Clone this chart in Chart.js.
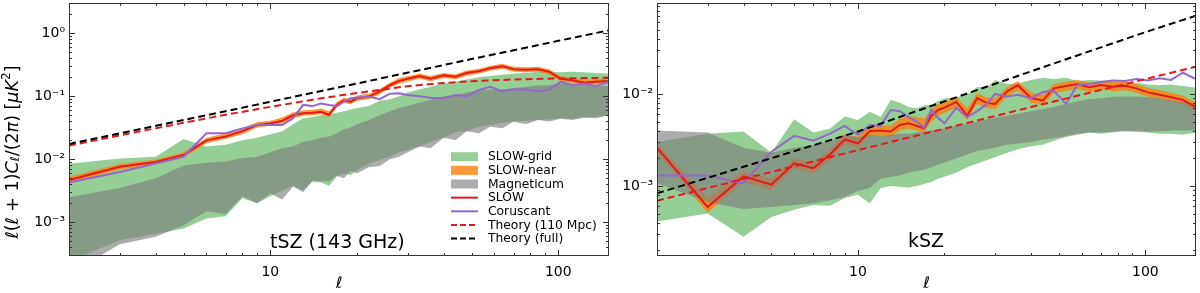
<!DOCTYPE html>
<html>
<head>
<meta charset="utf-8">
<script src="https://cdn.jsdelivr.net/npm/chart.js@4.4.1/dist/chart.umd.min.js"></script>
<style>
  body { margin: 0; background: #fff; width: 1200px; height: 293px; overflow: hidden; position: relative; }
  canvas { position: absolute; top: 0; }
  #tsz { left: 0; }
  #ksz { left: 612px; }
</style>
</head>
<body>
<canvas id="tsz" width="612" height="293"></canvas>
<canvas id="ksz" width="588" height="293"></canvas>
<script>
// multipoles shared by the simulated spectra
const ell = [2, 3, 4, 5, 6, 7, 8, 9, 10, 11, 12, 13, 14, 15, 16, 17, 18, 19, 20,
  22, 24, 26, 28, 30, 33, 36, 40, 44, 48, 53, 58, 64, 70, 77, 85, 93, 102, 112, 123, 135, 150];

// tSZ (143 GHz)
const tszGridLo = [0.00024, 0.00052, 0.00065, 0.0008, 0.00115, 0.00125, 0.0024, 0.002, 0.0026, 0.0032, 0.0038, 0.0032, 0.0044, 0.0043, 0.0038, 0.0053, 0.006, 0.0056, 0.0068,
  0.0085, 0.0098, 0.011, 0.013, 0.014, 0.016, 0.019, 0.022, 0.027, 0.028, 0.033, 0.035, 0.038, 0.04, 0.041, 0.042, 0.043, 0.045, 0.044, 0.046, 0.047, 0.05];
const tszGridHi = [0.0085, 0.0103, 0.011, 0.021, 0.016, 0.017, 0.02, 0.022, 0.025, 0.028, 0.036, 0.045, 0.047, 0.05, 0.052, 0.055, 0.058, 0.062, 0.065,
  0.07, 0.085, 0.09, 0.1, 0.115, 0.13, 0.14, 0.16, 0.17, 0.185, 0.2, 0.21, 0.22, 0.23, 0.235, 0.245, 0.245, 0.24, 0.245, 0.24, 0.235, 0.23];
const tszNearLo = [0.0042, 0.0069, 0.0083, 0.0106, 0.018, 0.021, 0.025, 0.032, 0.034, 0.037, 0.045, 0.049, 0.05, 0.052, 0.047, 0.066, 0.078, 0.075, 0.085,
  0.09, 0.108, 0.135, 0.158, 0.172, 0.19, 0.173, 0.195, 0.186, 0.213, 0.228, 0.255, 0.273, 0.246, 0.241, 0.246, 0.223, 0.173, 0.164, 0.15, 0.155, 0.16];
const tszNearHi = [0.0053, 0.0084, 0.0099, 0.013, 0.022, 0.026, 0.031, 0.039, 0.041, 0.046, 0.056, 0.06, 0.061, 0.064, 0.058, 0.081, 0.095, 0.091, 0.103,
  0.11, 0.132, 0.165, 0.196, 0.208, 0.23, 0.21, 0.235, 0.225, 0.257, 0.275, 0.306, 0.328, 0.296, 0.29, 0.295, 0.268, 0.209, 0.197, 0.181, 0.186, 0.192];
const tszMagLo = [0.00015, 0.00045, 0.00059, 0.0009, 0.0015, 0.00135, 0.0026, 0.002, 0.0029, 0.0023, 0.0037, 0.003, 0.0046, 0.0045, 0.0045, 0.0055, 0.005, 0.0065, 0.006,
  0.0075, 0.0078, 0.01, 0.011, 0.013, 0.016, 0.015, 0.022, 0.02, 0.028, 0.026, 0.033, 0.031, 0.04, 0.036, 0.042, 0.04, 0.044, 0.042, 0.046, 0.045, 0.05];
const tszMagHi = [0.0025, 0.0035, 0.005, 0.008, 0.0088, 0.0092, 0.0105, 0.011, 0.013, 0.015, 0.016, 0.019, 0.02, 0.022, 0.023, 0.026, 0.03, 0.032, 0.036,
  0.042, 0.05, 0.058, 0.065, 0.07, 0.08, 0.088, 0.1, 0.105, 0.115, 0.125, 0.128, 0.13, 0.135, 0.14, 0.15, 0.15, 0.16, 0.155, 0.16, 0.15, 0.145];
const tszSlow = [0.0047, 0.0076, 0.0091, 0.0117, 0.02, 0.023, 0.028, 0.035, 0.037, 0.041, 0.05, 0.054, 0.055, 0.057, 0.051, 0.073, 0.086, 0.082, 0.093,
  0.099, 0.12, 0.15, 0.175, 0.19, 0.21, 0.19, 0.215, 0.205, 0.235, 0.25, 0.28, 0.3, 0.27, 0.265, 0.27, 0.245, 0.19, 0.18, 0.165, 0.17, 0.175];
const tszCorus = [0.0043, 0.0063, 0.0086, 0.011, 0.026, 0.026, 0.031, 0.035, 0.035, 0.035, 0.045, 0.073, 0.07, 0.077, 0.073, 0.07, 0.082, 0.093, 0.095,
  0.099, 0.09, 0.11, 0.112, 0.105, 0.1, 0.095, 0.093, 0.105, 0.1, 0.126, 0.142, 0.12, 0.128, 0.13, 0.12, 0.128, 0.17, 0.15, 0.16, 0.145, 0.17];
const tsz110Ell = [2, 3, 5, 7, 10, 15, 20, 30, 40, 50, 70, 100, 150];
const tsz110 = [0.0165, 0.024, 0.038, 0.051, 0.068, 0.093, 0.113, 0.145, 0.163, 0.174, 0.185, 0.192, 0.197];
const tszFullEll = [2, 5, 10, 20, 50, 100, 150];
const tszFull = [0.0175, 0.042, 0.082, 0.16, 0.39, 0.76, 1.12];

// kSZ
const kszGridLo = [0.00041, 0.0005, 0.00028, 0.00046, 0.00055, 0.00062, 0.00061, 0.00074, 0.0008, 0.00065, 0.00095, 0.001, 0.00098, 0.00096, 0.001, 0.00105, 0.0011, 0.0012, 0.00126,
  0.0014, 0.0016, 0.00175, 0.0019, 0.00205, 0.0023, 0.0025, 0.0027, 0.0028, 0.0031, 0.0034, 0.0036, 0.0038, 0.0037, 0.0038, 0.004, 0.0039, 0.0038, 0.0037, 0.0037, 0.0036, 0.0038];
const kszGridHi = [0.003, 0.0037, 0.0039, 0.0023, 0.0053, 0.0038, 0.0042, 0.0057, 0.0052, 0.0064, 0.0056, 0.0086, 0.008, 0.0072, 0.007, 0.0075, 0.0077, 0.0084, 0.0089,
  0.0092, 0.0098, 0.012, 0.0115, 0.0142, 0.0128, 0.013, 0.0142, 0.015, 0.0145, 0.015, 0.0138, 0.0142, 0.014, 0.0138, 0.0135, 0.0132, 0.0127, 0.0124, 0.0127, 0.0122, 0.0117];
const kszNearLo = [0.0023, 0.00051, 0.0011, 0.0009, 0.00155, 0.00135, 0.0019, 0.0028, 0.0026, 0.0035, 0.0035, 0.0034, 0.004, 0.0042, 0.004, 0.0038, 0.005, 0.0058, 0.0062,
  0.0071, 0.0052, 0.0078, 0.007, 0.0069, 0.0093, 0.011, 0.008, 0.0076, 0.0102, 0.0108, 0.0114, 0.0105, 0.0112, 0.0107, 0.011, 0.0103, 0.0093, 0.0088, 0.0083, 0.0077, 0.0065];
const kszNearHi = [0.0029, 0.00075, 0.00145, 0.0012, 0.002, 0.0018, 0.0025, 0.0037, 0.0034, 0.0046, 0.0046, 0.0045, 0.0054, 0.0058, 0.0056, 0.0054, 0.0068, 0.0078, 0.0082,
  0.0093, 0.007, 0.0102, 0.0092, 0.009, 0.0118, 0.0138, 0.0104, 0.0098, 0.0128, 0.0136, 0.0142, 0.0132, 0.0138, 0.0134, 0.0136, 0.0128, 0.0116, 0.011, 0.0103, 0.0096, 0.008];
const kszMagLo = [0.00107, 0.00067, 0.00056, 0.00059, 0.00062, 0.00065, 0.0007, 0.00076, 0.00088, 0.00095, 0.0012, 0.00125, 0.0013, 0.0014, 0.00145, 0.0015, 0.0016, 0.0017, 0.0018,
  0.002, 0.0022, 0.0024, 0.0025, 0.0026, 0.0028, 0.0029, 0.003, 0.0032, 0.0033, 0.0035, 0.0037, 0.0038, 0.0038, 0.0039, 0.0039, 0.0039, 0.0039, 0.0039, 0.004, 0.004, 0.004];
const kszMagHi = [0.004, 0.0038, 0.0026, 0.0023, 0.0026, 0.0028, 0.0031, 0.0036, 0.0034, 0.0036, 0.0035, 0.0036, 0.0037, 0.0037, 0.0038, 0.0039, 0.004, 0.0041, 0.0042,
  0.0045, 0.0047, 0.005, 0.0053, 0.0055, 0.0058, 0.0061, 0.0065, 0.0068, 0.0072, 0.0078, 0.0083, 0.0088, 0.009, 0.0093, 0.0094, 0.0094, 0.0092, 0.009, 0.0086, 0.0082, 0.0078];
const kszSlow = [0.0026, 0.00059, 0.00127, 0.00103, 0.00176, 0.00156, 0.0022, 0.0032, 0.0029, 0.00396, 0.004, 0.0039, 0.0046, 0.0048, 0.0045, 0.0042, 0.0058, 0.0067, 0.0071,
  0.0082, 0.0058, 0.009, 0.008, 0.0078, 0.0106, 0.0125, 0.009, 0.0085, 0.0115, 0.0122, 0.0128, 0.0118, 0.0125, 0.012, 0.0123, 0.0115, 0.0104, 0.0098, 0.0092, 0.0086, 0.0072];
const kszCorus = [0.0013, 0.0013, 0.00107, 0.00236, 0.0035, 0.0031, 0.0037, 0.0045, 0.0036, 0.0046, 0.0045, 0.0067, 0.0065, 0.0056, 0.005, 0.0043, 0.0067, 0.0055, 0.0048,
  0.0071, 0.0056, 0.0065, 0.0077, 0.01, 0.0094, 0.0098, 0.009, 0.0105, 0.0108, 0.0078, 0.0125, 0.0128, 0.0135, 0.014, 0.0138, 0.0145, 0.014, 0.0148, 0.0142, 0.017, 0.0145];
const ksz110Ell = [2, 10, 40, 150];
const ksz110 = [0.00069, 0.00245, 0.0072, 0.0198];
const kszFullEll = [2, 5, 10, 20, 45, 100, 150];
const kszFull = [0.00083, 0.002, 0.0039, 0.0083, 0.02, 0.047, 0.071];

const FONT = "'DejaVu Sans', sans-serif";
const GREEN = 'rgba(44, 160, 44, 0.5)';
const ORANGE = 'rgba(255, 127, 14, 0.8)';
const GRAY = 'rgba(128, 128, 128, 0.65)';
const RED = '#e31a1c';
const PURPLE = '#9467cd';

const pts = (xs, ys) => xs.map((x, i) => ({ x: x, y: ys[i] }));
const sup = { '-': '\u207B', '0': '\u2070', '1': '\u00B9', '2': '\u00B2', '3': '\u00B3', '4': '\u2074' };

function line(xs, ys, color, dash) {
  return { data: pts(xs, ys), borderColor: color, borderWidth: 2, borderDash: dash || [],
    pointRadius: 0, fill: false, tension: 0 };
}
function edge(ys, fillTo, color) {
  return { data: pts(ell, ys), borderColor: 'transparent', borderWidth: 0, pointRadius: 0,
    fill: fillTo === null ? false : fillTo, backgroundColor: color || 'transparent', tension: 0 };
}

// inward ticks on all four sides plus the frame, text and legend
const decor = {
  id: 'decor',
  afterDraw(chart, args, o) {
    const { ctx, chartArea: a, scales } = chart;
    ctx.save();
    ctx.strokeStyle = '#333';
    ctx.lineWidth = 1;
    const each = (sc, fn) => {
      const e0 = Math.floor(Math.log10(sc.min)), e1 = Math.ceil(Math.log10(sc.max));
      for (let e = e0; e <= e1; e++) {
        for (let m = 1; m < 10; m++) {
          const v = m * Math.pow(10, e);
          if (v < sc.min * 0.999 || v > sc.max * 1.001) continue;
          fn(Math.round(sc.getPixelForValue(v)) + 0.5, m === 1 ? 6 : 3);
        }
      }
    };
    ctx.beginPath();
    each(scales.x, (p, len) => {
      ctx.moveTo(p, a.bottom); ctx.lineTo(p, a.bottom - len);
      ctx.moveTo(p, a.top); ctx.lineTo(p, a.top + len);
    });
    each(scales.y, (p, len) => {
      ctx.moveTo(a.left, p); ctx.lineTo(a.left + len, p);
      ctx.moveTo(a.right, p); ctx.lineTo(a.right - len, p);
    });
    ctx.stroke();
    ctx.strokeRect(a.left + 0.5, a.top + 0.5, a.right - a.left - 1, a.bottom - a.top - 1);

    ctx.fillStyle = '#000';
    ctx.font = '19px ' + FONT;
    ctx.textBaseline = 'alphabetic';
    ctx.fillText(o.tag, o.tagX, o.tagY);

    ctx.font = 'italic 16px ' + FONT;
    ctx.textAlign = 'center';
    ctx.textBaseline = 'middle';
    ctx.fillText('\u2113', (a.left + a.right) / 2, 284);
    ctx.textAlign = 'left';

    if (o.ylabel) {
      const s = 17.5;
      const n = s + 'px ' + FONT, it = 'italic ' + s + 'px ' + FONT;
      const sm = 'italic ' + (s * 0.7) + 'px ' + FONT, smn = (s * 0.7) + 'px ' + FONT;
      const parts = [['\u2113', it, 0], ['(', n, 0], ['\u2113', it, 0], [' + 1)', n, 0], ['C', it, 0],
        ['\u2113', sm, 3], ['/(2', n, 0], ['\u03C0', it, 0], [')', n, 0], [' [', n, 0], ['\u03BCK', it, 0],
        ['2', smn, -6], [']', n, 0]];
      let w = 0;
      parts.forEach(p => { ctx.font = p[1]; w += ctx.measureText(p[0]).width; });
      ctx.translate(13, 152);
      ctx.rotate(-Math.PI / 2);
      let x = -w / 2;
      ctx.textBaseline = 'middle';
      parts.forEach(p => { ctx.font = p[1]; ctx.fillText(p[0], x, p[2]); x += ctx.measureText(p[0]).width; });
      ctx.setTransform(1, 0, 0, 1, 0, 0);
    }

    if (o.legend) {
      const items = [['patch', GREEN, 'SLOW-grid'], ['patch', ORANGE, 'SLOW-near'], ['patch', GRAY, 'Magneticum'],
        ['line', RED, 'SLOW'], ['line', PURPLE, 'Coruscant'], ['dash', RED, 'Theory (110 Mpc)'], ['dash', '#000', 'Theory (full)']];
      ctx.font = '12.3px ' + FONT;
      ctx.textBaseline = 'middle';
      items.forEach((it, i) => {
        const y = 156.7 + i * 13.65;
        if (it[0] === 'patch') {
          ctx.fillStyle = it[1];
          ctx.fillRect(451, y - 4.5, 27, 9);
        } else {
          ctx.strokeStyle = it[1];
          ctx.lineWidth = 2;
          ctx.setLineDash(it[0] === 'dash' ? [6, 3] : []);
          ctx.beginPath(); ctx.moveTo(451, y); ctx.lineTo(478, y); ctx.stroke();
          ctx.setLineDash([]);
        }
        ctx.fillStyle = '#000';
        ctx.fillText(it[2], 488, y + 0.5);
      });
    }
    ctx.restore();
  }
};

function makeChart(id, cfg) {
  const datasets = [
    line(cfg.fullEll, cfg.full, '#000', [7, 4]),
    line(cfg.e110, cfg.t110, RED, [7, 4]),
    line(ell, cfg.corus, PURPLE),
    line(ell, cfg.slow, RED),
    edge(cfg.magLo, null),
    edge(cfg.magHi, 4, GRAY),
    edge(cfg.nearLo, null),
    edge(cfg.nearHi, 6, ORANGE),
    edge(cfg.gridLo, null),
    edge(cfg.gridHi, 8, GREEN)
  ];
  const tickFont = { family: FONT, size: 14 };
  return new Chart(document.getElementById(id), {
    type: 'line',
    data: { datasets: datasets },
    plugins: [decor],
    options: {
      responsive: false,
      animation: false,
      devicePixelRatio: 1,
      layout: { padding: { left: 0, top: 3, right: cfg.padRight, bottom: 0 } },
      plugins: {
        legend: { display: false },
        tooltip: { enabled: false },
        decor: { tag: cfg.tag, tagX: cfg.tagX, tagY: cfg.tagY, ylabel: cfg.ylabel, legend: cfg.legend }
      },
      scales: {
        x: {
          type: 'logarithmic', min: 2, max: 150,
          afterFit: s => { s.height = 37; s.paddingLeft = 0; s.paddingRight = 0; },
          afterBuildTicks: s => { s.ticks = [{ value: 10 }, { value: 100 }]; },
          grid: { display: false, drawTicks: false },
          border: { display: false },
          ticks: { autoSkip: false, maxRotation: 0, padding: 8, color: '#000', font: tickFont,
            callback: v => String(v) }
        },
        y: {
          type: 'logarithmic', min: cfg.ymin, max: cfg.ymax,
          afterFit: s => { s.width = cfg.yWidth; s.paddingTop = 0; s.paddingBottom = 0; },
          afterBuildTicks: s => { s.ticks = cfg.decades.map(v => ({ value: v })); },
          grid: { display: false, drawTicks: false },
          border: { display: false },
          ticks: { autoSkip: false, padding: 4, color: '#000', font: tickFont,
            callback: v => '10' + String(Math.round(Math.log10(v))).split('').map(c => sup[c]).join('') }
        }
      }
    }
  });
}

makeChart('tsz', {
  gridLo: tszGridLo, gridHi: tszGridHi, nearLo: tszNearLo, nearHi: tszNearHi,
  magLo: tszMagLo, magHi: tszMagHi, slow: tszSlow, corus: tszCorus,
  e110: tsz110Ell, t110: tsz110, fullEll: tszFullEll, full: tszFull,
  ymin: 2.92e-4, ymax: 3.03, decades: [1e-3, 1e-2, 1e-1, 1],
  yWidth: 69, padRight: 3, tag: 'tSZ (143 GHz)', tagX: 270, tagY: 248, ylabel: true, legend: true
});

makeChart('ksz', {
  gridLo: kszGridLo, gridHi: kszGridHi, nearLo: kszNearLo, nearHi: kszNearHi,
  magLo: kszMagLo, magHi: kszMagHi, slow: kszSlow, corus: kszCorus,
  e110: ksz110Ell, t110: ksz110, fullEll: kszFullEll, full: kszFull,
  ymin: 1.73e-4, ymax: 0.0975, decades: [1e-3, 1e-2],
  yWidth: 45, padRight: 4, tag: 'kSZ', tagX: 296, tagY: 247, ylabel: false, legend: false
});
</script>
</body>
</html>
